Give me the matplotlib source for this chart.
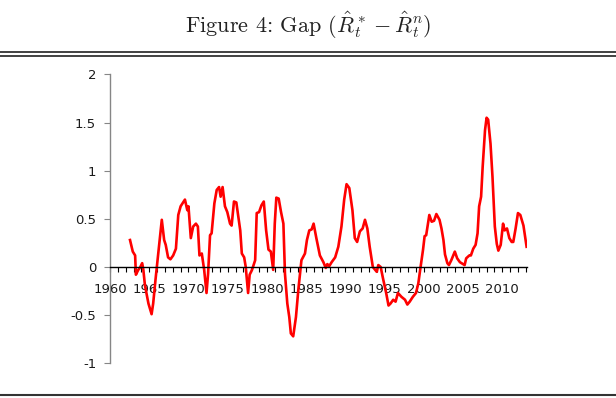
import matplotlib
matplotlib.use('Agg')
import matplotlib.pyplot as plt
from matplotlib.lines import Line2D

plt.rcParams['mathtext.fontset'] = 'cm'
plt.rcParams['font.family'] = 'DejaVu Sans'

# values (year, gap)
years = [1962.55, 1962.9, 1963.2, 1963.3, 1963.6, 1963.8, 1964.1, 1964.25, 1964.45, 1964.9,
         1965.3, 1965.5, 1965.8, 1966.15, 1966.6, 1966.9, 1967.1, 1967.4, 1967.7, 1968.05,
         1968.4, 1968.7, 1969.0, 1969.55, 1969.85, 1970.0, 1970.3, 1970.6, 1970.95, 1971.2,
         1971.4, 1971.7, 1972.0, 1972.3, 1972.5, 1972.75, 1972.95, 1973.3, 1973.6, 1973.9,
         1974.1, 1974.35, 1974.65, 1974.95, 1975.3, 1975.5, 1975.8, 1976.1, 1976.6, 1976.8,
         1977.1, 1977.3, 1977.6, 1977.8, 1978.1, 1978.5, 1978.7, 1979.0, 1979.3, 1979.6,
         1979.9, 1980.2, 1980.5, 1980.8, 1981.0, 1981.2, 1981.5, 1981.8, 1982.1, 1982.3,
         1982.6, 1982.85, 1983.05, 1983.35, 1983.7, 1984.0, 1984.4, 1984.85, 1985.1, 1985.4,
         1985.7, 1985.95, 1986.3, 1986.75, 1987.2, 1987.5, 1987.7, 1987.95, 1988.25, 1988.7,
         1989.1, 1989.5, 1989.85, 1990.15, 1990.5, 1990.9, 1991.2, 1991.5, 1991.85, 1992.2,
         1992.5, 1992.8, 1993.1, 1993.5, 1993.8, 1994.0, 1994.2, 1994.5, 1994.8, 1995.2,
         1995.5, 1995.75, 1996.1, 1996.4, 1996.7, 1997.15, 1997.6, 1997.9, 1998.2, 1998.6,
         1999.0, 1999.3, 1999.5, 1999.9, 2000.1, 2000.3, 2000.7, 2001.0, 2001.3, 2001.6,
         2002.0, 2002.25, 2002.5, 2002.7, 2003.0, 2003.2, 2003.5, 2003.95, 2004.25, 2004.6,
         2005.0, 2005.2, 2005.4, 2005.8, 2006.0, 2006.3, 2006.6, 2006.85, 2007.05, 2007.3,
         2007.5, 2007.8, 2008.0, 2008.2, 2008.5, 2008.75, 2009.05, 2009.3, 2009.5, 2009.8,
         2010.1, 2010.3, 2010.6, 2010.9, 2011.2, 2011.4, 2011.7, 2012.0, 2012.3, 2012.7,
         2013.1]
gap = [0.28, 0.16, 0.12, -0.08, -0.03, -0.01, 0.04, -0.03, -0.19, -0.38,
       -0.49, -0.38, -0.13, 0.14, 0.49, 0.28, 0.23, 0.10, 0.08, 0.12,
       0.19, 0.54, 0.63, 0.70, 0.59, 0.63, 0.30, 0.42, 0.45, 0.42,
       0.12, 0.14, -0.03, -0.27, -0.07, 0.33, 0.35, 0.66, 0.80, 0.83,
       0.73, 0.83, 0.63, 0.57, 0.45, 0.43, 0.68, 0.67, 0.38, 0.14,
       0.10, 0.00, -0.27, -0.08, -0.03, 0.07, 0.56, 0.57, 0.64, 0.68,
       0.38, 0.18, 0.16, -0.03, 0.45, 0.72, 0.71, 0.57, 0.45, -0.07,
       -0.38, -0.52, -0.69, -0.72, -0.52, -0.24, 0.07, 0.14, 0.28, 0.38,
       0.39, 0.45, 0.30, 0.12, 0.05, -0.01, 0.03, 0.01, 0.05, 0.10,
       0.21, 0.42, 0.70, 0.86, 0.82, 0.59, 0.30, 0.26, 0.37, 0.40,
       0.49, 0.40, 0.21, 0.00, -0.03, -0.05, 0.02, 0.00, -0.12, -0.27,
       -0.40, -0.38, -0.34, -0.36, -0.27, -0.31, -0.34, -0.39, -0.36, -0.31,
       -0.27, -0.17, -0.05, 0.18, 0.32, 0.33, 0.54, 0.47, 0.48, 0.55,
       0.49, 0.40, 0.28, 0.13, 0.04, 0.02, 0.07, 0.16, 0.09, 0.05,
       0.03, 0.02, 0.09, 0.12, 0.12, 0.19, 0.23, 0.35, 0.63, 0.73,
       1.04, 1.42, 1.55, 1.53, 1.28, 0.94, 0.42, 0.24, 0.17, 0.23,
       0.45, 0.38, 0.40, 0.30, 0.26, 0.26, 0.40, 0.56, 0.54, 0.43,
       0.21]

year_ticks = list(range(1960, 2014))
year_labels = [str(y) if y % 5 == 0 else '' for y in year_ticks]
y_ticks = [-1, -0.5, 0, 0.5, 1, 1.5, 2]
y_labels = ['-1', '-0.5', '0', '0.5', '1', '1.5', '2']

fig = plt.figure(figsize=(6.16, 3.98), dpi=100)
ax = fig.add_axes([0.1786, 0.0872, 0.6769, 0.7259])

ax.plot(years, gap, color='#ff0000', linewidth=1.9, solid_joinstyle='round')

ax.set_xlim(1960, 2013.15)
ax.set_ylim(-1, 2)

ax.spines['top'].set_visible(False)
ax.spines['right'].set_visible(False)
ax.spines['left'].set_color('#868686')
ax.spines['left'].set_linewidth(1.0)
ax.spines['bottom'].set_position(('data', 0))
ax.spines['bottom'].set_color('black')
ax.spines['bottom'].set_linewidth(1.0)

ax.set_xticks(year_ticks)
ax.set_xticklabels(year_labels)
ax.set_yticks(y_ticks)
ax.set_yticklabels(y_labels)
ax.tick_params(axis='x', direction='out', length=3.5, width=0.8, color='black',
               pad=8, labelsize=9.5, labelcolor='#1a1a1a')
ax.tick_params(axis='y', direction='out', length=4, width=0.8, color='#868686',
               pad=6, labelsize=9.5, labelcolor='#1a1a1a')

# title set in Computer Modern like the paper
fig.text(0.5, 0.937, r'Figure 4: Gap ($\hat{R}^*_t - \hat{R}^n_t$)',
         family='cmr10', ha='center', va='center', fontsize=16, color='#222222')

# rules above and below the figure
for yy, lw in [(1 - 51.5 / 398, 1.3), (1 - 56 / 398, 1.3), (1 - 395 / 398, 1.5)]:
    fig.add_artist(Line2D([0, 1], [yy, yy], transform=fig.transFigure,
                          color='#333333', linewidth=lw))

fig.savefig('out.png', dpi=100)
